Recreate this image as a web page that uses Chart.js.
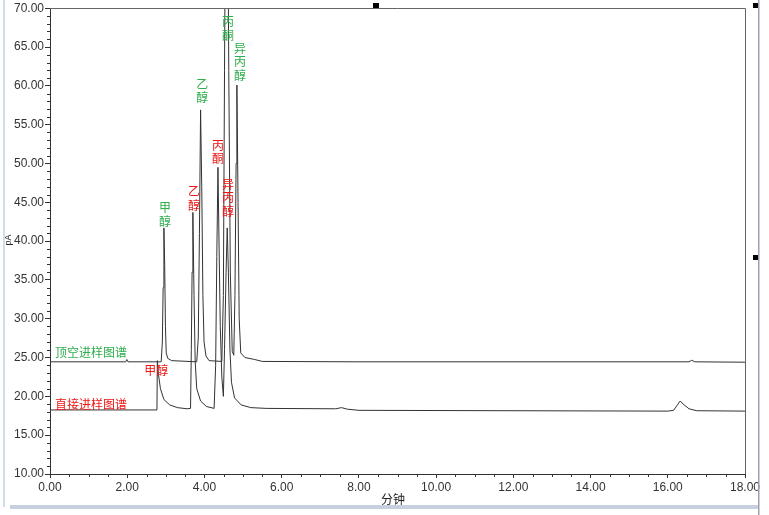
<!DOCTYPE html>
<html>
<head>
<meta charset="utf-8">
<script src="https://cdn.jsdelivr.net/npm/chart.js@4"></script>
<style>
    body { margin: 0; background: #fff; }
    canvas { display: block; }
</style>
</head>
<body>
<canvas id="chromChart" width="769" height="515"></canvas>
<script>
// Headspace injection trace (minutes, pA)
const headspaceTime = [0.00, 1.96, 1.99, 2.02, 2.88, 2.91, 2.93, 2.95, 2.97, 2.99, 3.01, 3.05, 3.15, 3.80, 3.84, 3.87, 3.90, 3.93, 3.96, 3.99, 4.04, 4.12, 4.45, 4.49, 4.52, 4.55, 4.60, 4.63, 4.67, 4.72, 4.76, 4.79, 4.82, 4.84, 4.87, 4.90, 4.94, 5.05, 5.30, 5.50, 8.00, 16.55, 16.62, 16.70, 18.00];
const headspaceSignal = [24.45, 24.45, 24.75, 24.45, 24.45, 27.0, 34.0, 41.7, 37.0, 29.0, 25.6, 24.9, 24.6, 24.45, 27.5, 41.0, 56.9, 47.0, 33.0, 27.0, 25.2, 24.6, 24.5, 33.0, 62.0, 88.0, 88.0, 62.0, 36.0, 25.8, 25.3, 33.0, 50.0, 60.1, 45.0, 30.0, 25.6, 25.0, 24.75, 24.5, 24.45, 24.45, 24.65, 24.45, 24.4];

// Direct injection trace (minutes, pA)
const directTime = [0.00, 2.77, 2.78, 2.81, 2.86, 2.95, 3.10, 3.30, 3.55, 3.64, 3.66, 3.68, 3.70, 3.73, 3.76, 3.80, 3.90, 4.05, 4.25, 4.29, 4.32, 4.35, 4.38, 4.41, 4.45, 4.49, 4.52, 4.56, 4.59, 4.62, 4.66, 4.70, 4.78, 4.95, 5.20, 5.60, 7.40, 7.55, 7.70, 8.00, 16.00, 16.15, 16.25, 16.32, 16.40, 16.55, 16.75, 18.00];
const directSignal = [18.25, 18.25, 24.6, 22.8, 21.0, 19.6, 18.9, 18.55, 18.4, 18.45, 26.0, 36.0, 43.7, 33.0, 24.5, 21.0, 19.4, 18.7, 18.45, 24.0, 38.0, 49.5, 39.0, 29.0, 22.5, 20.0, 26.0, 36.0, 41.7, 36.0, 26.0, 21.8, 19.8, 18.9, 18.55, 18.45, 18.4, 18.55, 18.35, 18.2, 18.1, 18.2, 18.9, 19.4, 19.0, 18.4, 18.15, 18.1];

// Peak names, stacked vertically above each peak (anchor = bottom of text)
const headspaceLabels = ['甲醇', '乙醇', '丙酮', '异丙醇'];
const headspaceLabelTime = [2.98, 3.94, 4.61, 4.92];
const headspaceLabelValue = [41.9, 57.8, 65.9, 60.7];

const directLabels = ['乙醇', '丙酮', '异丙醇'];
const directLabelTime = [3.73, 4.35, 4.61];
const directLabelValue = [44.0, 50.0, 43.2];

// Trace names and the horizontal methanol label
const traceNames = ['顶空进样图谱', '直接进样图谱'];
const traceNameValue = [25.6, 19.0];

const xTicks = { min: 0, max: 18, step: 2 };
const yTicks = { min: 10, max: 70, step: 5 };

const GREEN = '#2fae4e';
const RED = '#ee1515';
const CJK = '"Noto Sans CJK SC", sans-serif';

function toPoints(times, values) {
    return times.map((t, i) => ({ x: t, y: values[i] }));
}

const annotationPlugin = {
    id: 'annotations',
    afterDraw(chart) {
        const ctx = chart.ctx;
        const area = chart.chartArea;
        const xs = chart.scales.x;
        const ys = chart.scales.y;
        ctx.save();

        // window decoration
        ctx.fillStyle = '#d3dcea';
        ctx.fillRect(3, 0, 2, 507);
        ctx.fillStyle = '#c6d0e0';
        ctx.fillRect(10, 505, 748, 4);
        ctx.fillStyle = '#9aa3b0';
        ctx.fillRect(758, 0, 1.5, 515);
        ctx.fillStyle = '#000';
        ctx.fillRect(753, 3, 5, 5);
        ctx.fillRect(753, 255, 5, 5);
        ctx.fillRect(373, 3, 6, 5);

        // top and right frame
        ctx.strokeStyle = '#666';
        ctx.lineWidth = 1;
        ctx.beginPath();
        ctx.moveTo(area.left, Math.round(area.top) + 0.5);
        ctx.lineTo(Math.round(area.right) + 0.5, Math.round(area.top) + 0.5);
        ctx.lineTo(Math.round(area.right) + 0.5, area.bottom);
        ctx.stroke();

        // minor ticks
        ctx.strokeStyle = '#333';
        ctx.beginPath();
        for (let v = yTicks.min; v <= yTicks.max; v++) {
            if (v % yTicks.step === 0) continue;
            const py = Math.round(ys.getPixelForValue(v)) + 0.5;
            ctx.moveTo(area.left - 3, py);
            ctx.lineTo(area.left, py);
        }
        for (let k = 0; k <= xTicks.max * 2; k++) {
            if (k % (xTicks.step * 2) === 0) continue;
            const px = Math.round(xs.getPixelForValue(k / 2)) + 0.5;
            ctx.moveTo(px, area.bottom);
            ctx.lineTo(px, area.bottom + 3);
        }
        ctx.stroke();

        // axis titles
        ctx.fillStyle = '#222';
        ctx.font = '12px ' + CJK;
        ctx.textAlign = 'center';
        ctx.textBaseline = 'middle';
        ctx.fillText('分钟', 393, 499);
        ctx.save();
        ctx.translate(9, 240);
        ctx.rotate(-Math.PI / 2);
        ctx.font = '9px "Liberation Sans", Arial, sans-serif';
        ctx.fillText('pA', 0, 0);
        ctx.restore();

        // stacked peak labels
        const drawStack = (text, t, v, color) => {
            const cx = xs.getPixelForValue(t);
            const bottom = ys.getPixelForValue(v);
            const chars = Array.from(text);
            ctx.fillStyle = color;
            ctx.font = '12px ' + CJK;
            ctx.textAlign = 'center';
            ctx.textBaseline = 'bottom';
            chars.forEach((ch, i) => {
                ctx.fillText(ch, cx, bottom - (chars.length - 1 - i) * 13.5 + 1);
            });
        };
        headspaceLabels.forEach((txt, i) => drawStack(txt, headspaceLabelTime[i], headspaceLabelValue[i], GREEN));
        directLabels.forEach((txt, i) => drawStack(txt, directLabelTime[i], directLabelValue[i], RED));

        // trace names
        ctx.font = '12px ' + CJK;
        ctx.textAlign = 'left';
        ctx.textBaseline = 'middle';
        ctx.fillStyle = GREEN;
        ctx.fillText(traceNames[0], area.left + 5, ys.getPixelForValue(traceNameValue[0]));
        ctx.fillStyle = RED;
        ctx.fillText(traceNames[1], area.left + 5, ys.getPixelForValue(traceNameValue[1]));

        // horizontal methanol label of the direct trace
        ctx.textAlign = 'center';
        ctx.fillText('甲醇', xs.getPixelForValue(2.75), ys.getPixelForValue(23.4));

        ctx.restore();
    }
};

const chart = new Chart(document.getElementById('chromChart').getContext('2d'), {
    type: 'line',
    data: {
        datasets: [
            {
                label: traceNames[0],
                data: toPoints(headspaceTime, headspaceSignal),
                borderColor: '#333',
                borderWidth: 1,
                pointRadius: 0,
                tension: 0
            },
            {
                label: traceNames[1],
                data: toPoints(directTime, directSignal),
                borderColor: '#333',
                borderWidth: 1,
                pointRadius: 0,
                tension: 0
            }
        ]
    },
    options: {
        responsive: false,
        animation: false,
        devicePixelRatio: 1,
        layout: {
            padding: { top: 8, right: 24, bottom: 0, left: 0 }
        },
        plugins: {
            legend: { display: false },
            tooltip: { enabled: false }
        },
        scales: {
            x: {
                type: 'linear',
                min: xTicks.min,
                max: xTicks.max,
                ticks: {
                    stepSize: xTicks.step,
                    maxRotation: 0,
                    padding: 2,
                    color: '#333',
                    font: { family: '"Liberation Sans", Arial, sans-serif', size: 12 },
                    callback: v => v.toFixed(2)
                },
                grid: { drawOnChartArea: false, tickLength: 4, tickColor: '#333' },
                border: { color: '#333' },
                afterFit: scale => { scale.height = 41; }
            },
            y: {
                min: yTicks.min,
                max: yTicks.max,
                ticks: {
                    stepSize: yTicks.step,
                    padding: 1,
                    color: '#333',
                    font: { family: '"Liberation Sans", Arial, sans-serif', size: 12 },
                    callback: v => v.toFixed(2)
                },
                grid: { drawOnChartArea: false, tickLength: 5, tickColor: '#333' },
                border: { color: '#333' },
                afterFit: scale => { scale.width = 50; }
            }
        }
    },
    plugins: [annotationPlugin]
});
</script>
</body>
</html>
